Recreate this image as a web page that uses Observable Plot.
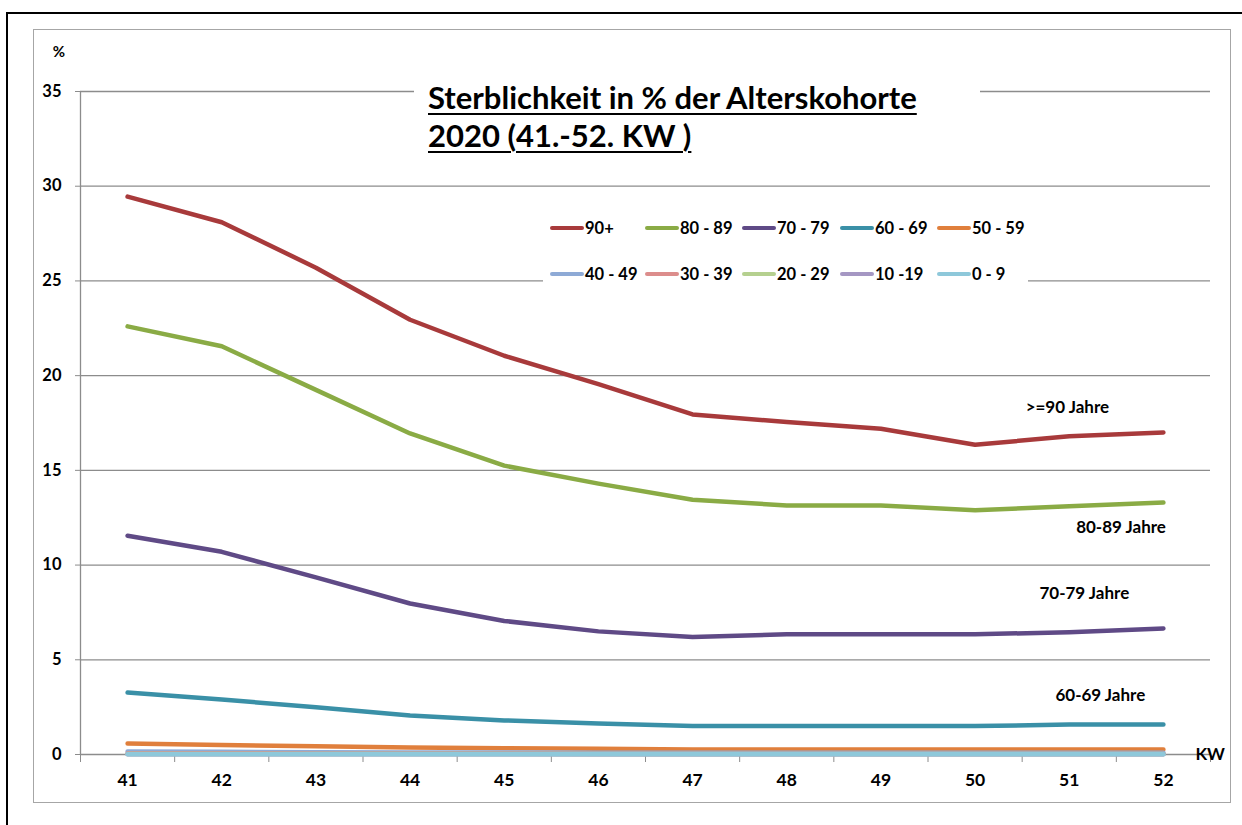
<!DOCTYPE html>
<html>
<head>
<meta charset="utf-8">
<script src="https://cdn.jsdelivr.net/npm/d3@7"></script>
<script src="https://cdn.jsdelivr.net/npm/@observablehq/plot@0.6"></script>
<style>
  html, body { margin: 0; padding: 0; background: #fff; }
  #wrap { position: relative; width: 1242px; height: 825px; overflow: hidden; font-family: Lato, "Open Sans", sans-serif; }
  #outer { position: absolute; left: 6px; top: 12px; width: 1300px; height: 900px; border-left: 2.5px solid #000; border-top: 2.5px solid #000; }
  #inner { position: absolute; left: 33px; top: 29px; width: 1196px; height: 772px; border: 1.5px solid #a6a6a6; }
  #chart { position: absolute; left: 0; top: 0; }
  #chart g[aria-label='x-axis tick label'] { font-size: 17.5px; }
  #title { position: absolute; left: 414px; top: 70px; width: 566px; height: 90px; background: #fff; }
  #title div { position: absolute; left: 14px; font-weight: 700; font-size: 31px; line-height: 36px; color: #000; text-decoration: underline; text-decoration-thickness: 2px; text-underline-offset: 4px; white-space: nowrap; }
  #legend { position: absolute; left: 543px; top: 206px; width: 485px; height: 86px; background: #fff; }
  .item { position: absolute; display: flex; align-items: center; font-weight: 700; font-size: 16.5px; color: #000; white-space: nowrap; }
  .sw { width: 34px; height: 4.5px; border-radius: 2px; margin-right: 1px; }
</style>
</head>
<body>
<div id="wrap">
  <div id="outer"></div>
  <div id="inner"></div>
  <div id="chart"></div>
  <div id="title"><div style="top:9px">Sterblichkeit in % der Alterskohorte</div><div style="top:47px">2020 (41.-52. KW )</div></div>
  <div id="legend"></div>
</div>
<script>
// ---- data ----
const weeks = [41, 42, 43, 44, 45, 46, 47, 48, 49, 50, 51, 52];
const groups = ["90+", "80 - 89", "70 - 79", "60 - 69", "50 - 59", "40 - 49", "30 - 39", "20 - 29", "10 -19", "0 - 9"];
const colors = ["#a83a3b", "#8aab45", "#5f4a86", "#3a90a7", "#e07f3c", "#8eaad6", "#dc8d8c", "#b5d08f", "#a597c3", "#8ec8da"];
const v90 = [29.45, 28.1, 25.7, 22.95, 21.05, 19.55, 17.95, 17.55, 17.2, 16.35, 16.8, 17.0];
const v80 = [22.6, 21.55, 19.25, 16.95, 15.25, 14.3, 13.45, 13.15, 13.15, 12.9, 13.1, 13.3];
const v70 = [11.55, 10.7, 9.35, 7.97, 7.05, 6.5, 6.2, 6.35, 6.35, 6.35, 6.45, 6.65];
const v60 = [3.27, 2.9, 2.5, 2.06, 1.8, 1.64, 1.5, 1.5, 1.5, 1.5, 1.58, 1.58];
const v50 = [0.58, 0.5, 0.43, 0.37, 0.33, 0.3, 0.27, 0.27, 0.27, 0.27, 0.27, 0.27];
const v40 = [0.16, 0.14, 0.12, 0.11, 0.1, 0.09, 0.09, 0.09, 0.09, 0.09, 0.09, 0.09];
const v30 = [0.05, 0.05, 0.04, 0.04, 0.04, 0.03, 0.03, 0.03, 0.03, 0.03, 0.03, 0.03];
const v20 = [0.03, 0.03, 0.02, 0.02, 0.02, 0.02, 0.02, 0.02, 0.02, 0.02, 0.02, 0.02];
const v10 = [0.01, 0.01, 0.01, 0.01, 0.01, 0.01, 0.01, 0.01, 0.01, 0.01, 0.01, 0.01];
const v0  = [0.01, 0.01, 0.01, 0.01, 0.01, 0.01, 0.01, 0.01, 0.01, 0.01, 0.01, 0.01];
const series = [v90, v80, v70, v60, v50, v40, v30, v20, v10, v0];
const yTicks = [0, 5, 10, 15, 20, 25, 30, 35];
const annLabels = [">=90 Jahre", "80-89 Jahre", "70-79 Jahre", "60-69 Jahre"];
const annX = [50.98, 51.55, 51.16, 51.33];
const annY = [18.3, 12.0, 8.5, 3.1];

// ---- build table ----
const rows = [];
groups.forEach((g, gi) => weeks.forEach((w, wi) => rows.push({group: g, week: w, value: series[gi][wi]})));
const anns = annLabels.map((t, i) => ({t, x: annX[i], y: annY[i]}));
const sepTicks = d3.range(weeks[0] - 0.5, weeks[weeks.length - 1] + 1, 1);

const font = "Lato, 'Open Sans', sans-serif";
const chart = Plot.plot({
  width: 1242,
  height: 825,
  marginLeft: 80,
  marginRight: 32,
  marginTop: 91,
  marginBottom: 71,
  style: {fontFamily: font, background: "transparent", overflow: "visible"},
  x: {domain: [weeks[0] - 0.5, weeks[weeks.length - 1] + 0.5]},
  y: {domain: [0, 35]},
  color: {domain: groups, range: colors},
  marks: [
    Plot.ruleY(yTicks.slice(1), {stroke: "#8c8c8c", strokeWidth: 1.3}),
    Plot.ruleX([weeks[0] - 0.5], {y1: 0, y2: 35, stroke: "#8c8c8c", strokeWidth: 1.3}),
    Plot.ruleY([0], {stroke: "#8c8c8c", strokeWidth: 1.3}),
    Plot.axisY({ticks: yTicks, tickSize: 5, tickPadding: 14, fontSize: 16.5, fontWeight: "bold", color: "#8c8c8c", label: null, tickFormat: d => d}),
    Plot.axisX({ticks: sepTicks, tickSize: 8, text: null, color: "#8c8c8c", label: null}),
    Plot.axisX({ticks: weeks, tickSize: 0, tickPadding: 19, fontSize: 17.5, fontWeight: "bold", label: null, tickFormat: d => d}),
    Plot.line(rows, {x: "week", y: "value", z: "group", stroke: "group", strokeWidth: 4.5, strokeLinecap: "round", strokeLinejoin: "round"}),
    Plot.text(anns, {x: "x", y: "y", text: "t", fontSize: 17, fontWeight: "bold", fill: "#000"}),
    Plot.text(["KW"], {x: weeks[weeks.length - 1] + 0.34, y: 0, text: d => d, textAnchor: "start", fontSize: 17, fontWeight: "bold", fill: "#000"}),
    Plot.text(["%"], {x: weeks[0] - 0.73, y: 37.1, text: d => d, fontSize: 15, fontWeight: "bold", fill: "#000"})
  ]
});
const svg = d3.select(chart);
svg.selectAll("[aria-label='y-axis tick label']").attr("fill", "#000");
svg.selectAll("[aria-label='x-axis tick label']").attr("fill", "#000").attr("font-weight", "bold");
document.getElementById("chart").appendChild(chart);

// ---- legend ----
const legend = document.getElementById("legend");
const colX = [7, 102, 199, 297, 394];
const rowY = [12, 58];
groups.forEach((g, i) => {
  const el = document.createElement("div");
  el.className = "item";
  el.style.left = colX[i % 5] + "px";
  el.style.top = rowY[Math.floor(i / 5)] + "px";
  el.innerHTML = `<span class="sw" style="background:${colors[i]}"></span><span>${g}</span>`;
  legend.appendChild(el);
});
</script>
</body>
</html>
